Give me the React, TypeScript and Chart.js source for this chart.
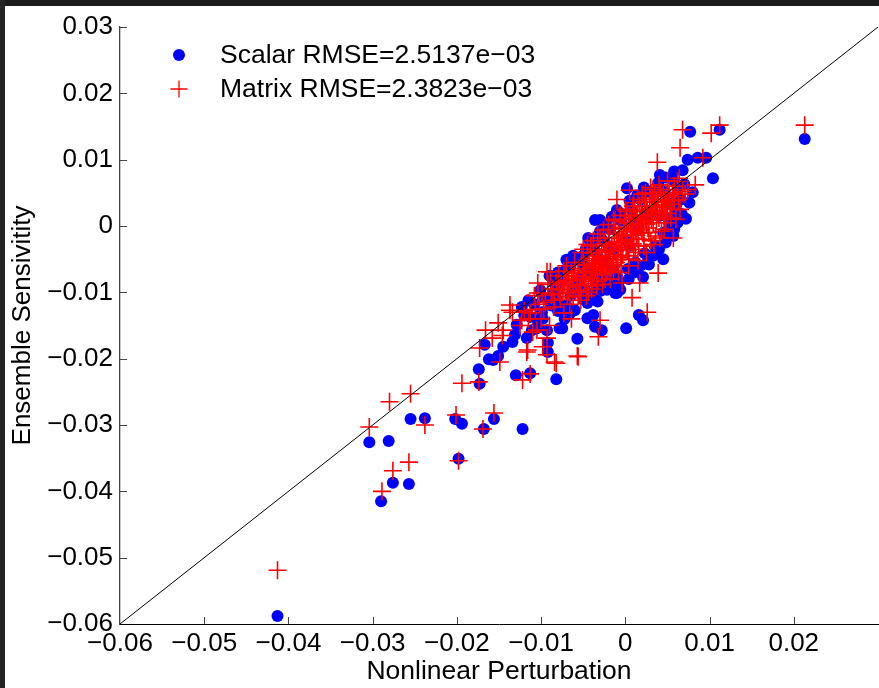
import React, { useEffect, useRef } from "react";
import { Chart, registerables } from "chart.js";

Chart.register(...registerables);

const FONT = "'Liberation Sans', Arial, Helvetica, sans-serif";

const xLabel = "Nonlinear Perturbation";
const yLabel = "Ensemble Sensivitity";
const seriesNames = ["Scalar RMSE=2.5137e\u221203", "Matrix RMSE=2.3823e\u221203"];
const axisMin = -0.06;
const axisMax = 0.03;
const axisStep = 0.01;
const xTickMarks = [-0.05, -0.04, -0.03, -0.02, -0.01, 0, 0.01, 0.02];
const yTickMarks = [-0.05, -0.04, -0.03, -0.02, -0.01, 0, 0.01, 0.02, 0.03];
const identityLine = [[-0.06, -0.06], [0.03, 0.03]];

// Scalar (blue dots)
const scalarPoints: number[][] = [
  [-0.0413, -0.0588], [-0.0290, -0.0415], [-0.0304, -0.0326], [-0.0281, -0.0324],
  [-0.0276, -0.0387], [-0.0257, -0.0389], [-0.0255, -0.0291], [-0.0238, -0.0290],
  [-0.0202, -0.0291], [-0.0194, -0.0298], [-0.0198, -0.0351], [-0.0168, -0.0306],
  [-0.0156, -0.0291], [-0.0122, -0.0306], [-0.0173, -0.0238], [-0.0174, -0.0216],
  [-0.0130, -0.0225], [-0.0113, -0.0222], [-0.0082, -0.0231], [-0.0167, -0.0179],
  [-0.0162, -0.0201], [-0.0157, -0.0202], [-0.0151, -0.0196], [-0.0145, -0.0182],
  [-0.0134, -0.0175], [-0.0131, -0.0164], [-0.0117, -0.0169], [-0.0111, -0.0157],
  [-0.0129, -0.0149], [-0.0123, -0.0122], [-0.0104, -0.0142], [-0.0093, -0.0157],
  [-0.0092, -0.0176], [-0.0092, -0.0190], [-0.0075, -0.0154], [-0.0099, -0.0130],
  [-0.0101, -0.0097], [-0.0081, -0.0112], [-0.0074, -0.0081], [-0.0070, -0.0051],
  [-0.0063, -0.0048], [-0.0075, -0.0071], [-0.0113, -0.0137], [-0.0105, -0.0154],
  [-0.0078, -0.0154], [-0.0060, -0.0127], [-0.0045, -0.0139], [-0.0038, -0.0134],
  [-0.0036, -0.0152], [-0.0028, -0.0157], [-0.0057, -0.0170], [0.0001, -0.0154],
  [0.0016, -0.0134], [0.0021, -0.0142], [-0.0045, -0.0116], [-0.0022, -0.0096],
  [-0.0010, -0.0101], [-0.0089, -0.0112], [-0.0081, -0.0092], [0.0021, -0.0077],
  [0.0023, -0.0041], [0.0014, -0.0062], [-0.0030, -0.0077], [-0.0054, -0.0081],
  [0.0077, 0.0142], [0.0112, 0.0145], [0.0074, 0.0100], [0.0086, 0.0103],
  [0.0096, 0.0103], [0.0068, 0.0084], [0.0104, 0.0072], [0.0041, 0.0077],
  [0.0057, 0.0069], [0.0039, 0.0065], [0.0002, 0.0057], [0.0080, 0.0051],
  [0.0072, 0.0011], [0.0051, 0.0012], [0.0057, -0.0015], [0.0213, 0.0131],
  [-0.0066, -0.0051], [-0.0042, -0.0021], [-0.0030, 0.0009], [-0.0010, 0.0024],
  [-0.0006, -0.0096], [-0.0036, 0.0009], [-0.0044, -0.0018], [0.0053, 0.0012],
  [-0.0012, -0.0101], [-0.0033, -0.0114], [0.0066, 0.0040], [0.0060, 0.0030],
  [0.0047, 0.0050], [0.0030, 0.0050], [-0.0090, -0.0075], [-0.0085, -0.0100],
  [-0.0070, -0.0120], [-0.0065, -0.0105], [-0.0055, -0.0100], [-0.0048, -0.0095],
  [-0.0065, -0.0060], [-0.0058, -0.0095], [-0.0050, -0.0045], [-0.0040, -0.0030],
  [-0.0034, -0.0090], [-0.0028, -0.0020], [-0.0022, -0.0082], [-0.0018, -0.0005],
  [-0.0010, -0.0075], [-0.0005, 0.0008], [0.0003, -0.0065], [0.0008, 0.0025],
  [0.0012, -0.0055], [0.0018, 0.0040], [0.0027, -0.0048], [0.0028, 0.0052],
  [0.0035, -0.0030], [0.0040, 0.0060], [0.0045, -0.0010], [0.0050, 0.0035],
  [0.0060, 0.0020], [0.0062, 0.0055], [-0.0080, -0.0070], [-0.0085, -0.0085],
  [-0.0030, -0.0050], [-0.0015, -0.0035], [0.0000, -0.0020], [0.0015, -0.0005],
  [0.0030, 0.0015], [-0.0045, -0.0065], [0.0070, 0.0063], [0.0058, 0.0082],
  [0.0048, 0.0073], [-0.0050, -0.0060], [-0.0035, -0.0040], [-0.0020, -0.0030],
  [0.0012, 0.0008], [0.0025, 0.0020], [-0.0025, -0.0055], [0.0005, -0.0030],
  [-0.0040, -0.0075], [-0.0060, -0.0090], [-0.0015, -0.0065], [0.0040, 0.0015],
  [-0.0055, -0.0050], [-0.0047, -0.0035], [-0.0040, -0.0020], [-0.0030, -0.0008],
  [-0.0023, 0.0002], [-0.0016, 0.0014], [-0.0007, 0.0020], [0.0005, 0.0038],
  [0.0014, 0.0046], [0.0022, 0.0058], [-0.0062, -0.0045], [-0.0070, -0.0065],
  [-0.0078, -0.0082], [-0.0050, -0.0110], [-0.0040, -0.0105], [-0.0030, -0.0098],
  [-0.0020, -0.0090], [-0.0008, -0.0085], [0.0004, -0.0080], [0.0010, -0.0070],
  [0.0018, -0.0060], [0.0028, -0.0058], [0.0033, -0.0045], [0.0040, -0.0035],
  [0.0048, -0.0025], [0.0052, -0.0005], [0.0062, 0.0005], [0.0067, 0.0018],
  [0.0076, 0.0035], [0.0058, -0.0005], [0.0045, -0.0050],
  [-0.0096, -0.0108], [-0.0088, -0.0120], [-0.0080, -0.0128], [-0.0072, -0.0140],
  [-0.0066, -0.0132], [-0.0098, -0.0140], [-0.0108, -0.0118], [-0.0115, -0.0112],
  [-0.0120, -0.0135],
];

// Matrix (red crosses)
const matrixPoints: number[][] = [
  [-0.0413, -0.0519], [-0.0289, -0.0400], [-0.0304, -0.0303], [-0.0280, -0.0265],
  [-0.0255, -0.0253], [-0.0276, -0.0369], [-0.0257, -0.0356], [-0.0238, -0.0300],
  [-0.0201, -0.0285], [-0.0198, -0.0354], [-0.0169, -0.0306], [-0.0156, -0.0282],
  [-0.0194, -0.0237], [-0.0174, -0.0235], [-0.0122, -0.0232], [-0.0113, -0.0223],
  [-0.0057, -0.0196], [-0.0149, -0.0205], [-0.0116, -0.0187], [-0.0093, -0.0194],
  [-0.0082, -0.0207], [-0.0166, -0.0157], [-0.0173, -0.0184], [-0.0158, -0.0169],
  [-0.0145, -0.0157], [-0.0146, -0.0165], [-0.0134, -0.0130], [-0.0137, -0.0119],
  [-0.0123, -0.0142], [-0.0113, -0.0131], [-0.0107, -0.0126], [-0.0105, -0.0157],
  [-0.0093, -0.0069], [-0.0104, -0.0086], [-0.0093, -0.0169], [-0.0099, -0.0101],
  [-0.0084, -0.0112], [0.0039, -0.0071], [0.0026, -0.0130], [-0.0030, -0.0142],
  [-0.0032, -0.0167], [-0.0056, -0.0197], [-0.0084, -0.0205], [-0.0117, -0.0190],
  [-0.0098, -0.0182], [0.0008, -0.0108], [-0.0004, -0.0086], [0.0017, -0.0086],
  [-0.0089, -0.0069], [-0.0104, -0.0101], [-0.0137, -0.0127], [-0.0151, -0.0146],
  [0.0068, 0.0145], [0.0112, 0.0152], [0.0102, 0.0140], [0.0065, 0.0118],
  [0.0038, 0.0096], [0.0092, 0.0103], [0.0083, 0.0062], [0.0074, 0.0055],
  [0.0062, 0.0067], [0.0071, 0.0048], [0.0057, 0.0044], [0.0041, -0.0018],
  [0.0057, -0.0018], [0.0213, 0.0152], [0.0005, 0.0054], [-0.0010, 0.0040],
  [0.0048, 0.0028],
  [-0.0062, -0.0090], [-0.0060, -0.0071], [-0.0058, -0.0083], [-0.0055, -0.0064],
  [-0.0053, -0.0097], [-0.0051, -0.0076], [-0.0049, -0.0058], [-0.0047, -0.0087],
  [-0.0046, -0.0069], [-0.0043, -0.0049], [-0.0041, -0.0078], [-0.0040, -0.0062],
  [-0.0038, -0.0041], [-0.0037, -0.0071], [-0.0035, -0.0055], [-0.0033, -0.0083],
  [-0.0031, -0.0036], [-0.0030, -0.0062], [-0.0029, -0.0047], [-0.0027, -0.0073],
  [-0.0025, -0.0027], [-0.0024, -0.0053], [-0.0022, -0.0039], [-0.0021, -0.0065],
  [-0.0019, -0.0018], [-0.0018, -0.0046], [-0.0016, -0.0031], [-0.0015, -0.0058],
  [-0.0013, -0.0009], [-0.0012, -0.0038], [-0.0010, -0.0024], [-0.0009, -0.0051],
  [-0.0007, -0.0002], [-0.0006, -0.0029], [-0.0004, -0.0015], [-0.0003, -0.0044],
  [-0.0001, 0.0006], [0.0000, -0.0022], [0.0002, -0.0008], [0.0003, -0.0036],
  [0.0005, 0.0015], [0.0006, -0.0013], [0.0008, 0.0001], [0.0009, -0.0027],
  [0.0011, 0.0022], [0.0012, -0.0005], [0.0014, 0.0009], [0.0015, -0.0020],
  [0.0017, 0.0030], [0.0018, 0.0003], [0.0020, 0.0017], [0.0021, -0.0011],
  [0.0023, 0.0037], [0.0024, 0.0010], [0.0026, 0.0024], [0.0027, -0.0003],
  [0.0029, 0.0043], [0.0030, 0.0016], [0.0032, 0.0031], [0.0033, 0.0005],
  [0.0035, 0.0048], [0.0036, 0.0022], [0.0038, 0.0037], [0.0040, 0.0012],
  [0.0042, 0.0051], [0.0044, 0.0028], [0.0047, 0.0040], [0.0050, 0.0019],
  [0.0052, 0.0055], [0.0055, 0.0033],
  [-0.0068, -0.0100], [-0.0072, -0.0085], [-0.0077, -0.0110], [-0.0080, -0.0095],
  [-0.0085, -0.0122], [-0.0088, -0.0104], [-0.0095, -0.0115], [-0.0066, -0.0118],
  [-0.0073, -0.0131], [-0.0062, -0.0107], [-0.0079, -0.0075], [-0.0070, -0.0060],
  [-0.0064, -0.0140], [-0.0053, -0.0112], [-0.0046, -0.0105], [-0.0040, -0.0095],
  [-0.0027, -0.0088], [-0.0018, -0.0080], [-0.0008, -0.0070], [0.0004, -0.0060],
  [0.0015, -0.0052], [0.0025, -0.0040], [0.0034, -0.0028], [0.0046, -0.0005],
  [0.0060, 0.0010], [0.0065, 0.0025], [-0.0052, -0.0040], [-0.0041, -0.0030],
  [-0.0030, -0.0018], [-0.0020, -0.0005], [-0.0012, 0.0008], [0.0000, 0.0025],
  [0.0010, 0.0035], [0.0020, 0.0048], [0.0030, 0.0058], [-0.0110, -0.0160],
  [-0.0125, -0.0150], [-0.0100, -0.0140], [-0.0090, -0.0150],
  [-0.0057, -0.0076], [-0.0054, -0.0088], [-0.0050, -0.0067], [-0.0048, -0.0080],
  [-0.0045, -0.0059], [-0.0044, -0.0090], [-0.0042, -0.0068], [-0.0039, -0.0052],
  [-0.0039, -0.0084], [-0.0036, -0.0064], [-0.0034, -0.0045], [-0.0033, -0.0073],
  [-0.0032, -0.0056], [-0.0028, -0.0066], [-0.0028, -0.0040], [-0.0026, -0.0058],
  [-0.0023, -0.0030], [-0.0023, -0.0070], [-0.0020, -0.0049], [-0.0019, -0.0036],
  [-0.0017, -0.0062], [-0.0014, -0.0043], [-0.0013, -0.0025], [-0.0011, -0.0055],
  [-0.0008, -0.0035], [-0.0008, -0.0012], [-0.0005, -0.0047], [-0.0004, -0.0024],
  [-0.0002, -0.0004], [0.0001, -0.0032], [0.0001, -0.0014], [0.0004, 0.0004],
  [0.0004, -0.0045], [0.0007, -0.0020], [0.0007, 0.0010], [0.0010, -0.0035],
  [0.0010, -0.0009], [0.0013, 0.0016], [0.0013, -0.0014], [0.0016, -0.0030],
  [0.0016, 0.0002], [0.0019, 0.0024], [0.0019, -0.0006], [0.0022, 0.0008],
  [0.0022, -0.0020], [0.0025, 0.0030], [0.0025, 0.0003], [0.0028, 0.0017],
  [0.0028, -0.0010], [0.0031, 0.0036], [0.0031, 0.0009], [0.0034, 0.0022],
  [0.0034, 0.0040], [0.0037, 0.0010], [0.0037, 0.0029], [0.0039, 0.0045],
  [0.0041, 0.0020], [0.0043, 0.0036], [0.0045, 0.0047], [0.0046, 0.0015],
  [0.0049, 0.0031], [0.0051, 0.0045], [0.0053, 0.0025], [0.0056, 0.0050],
  [0.0058, 0.0038], [-0.0062, -0.0080], [-0.0066, -0.0092], [-0.0059, -0.0100],
  [-0.0064, -0.0070], [-0.0070, -0.0075], [-0.0074, -0.0096], [-0.0069, -0.0106],
  [-0.0076, -0.0088],
  [-0.0050, -0.0035], [-0.0045, -0.0028], [-0.0038, -0.0022], [-0.0033, -0.0012],
  [-0.0026, -0.0006], [-0.0020, 0.0002], [-0.0014, 0.0010], [-0.0006, 0.0016],
  [0.0002, 0.0022], [0.0009, 0.0030], [0.0015, 0.0040], [0.0024, 0.0050],
  [0.0033, 0.0055], [0.0040, 0.0062], [0.0050, 0.0068], [0.0058, 0.0060],
  [0.0064, 0.0072], [0.0068, 0.0052], [0.0063, 0.0040], [0.0054, 0.0012],
  [0.0048, 0.0005], [0.0043, -0.0008], [0.0036, -0.0015], [0.0030, -0.0022],
  [0.0022, -0.0030], [0.0012, -0.0040], [0.0004, -0.0050], [-0.0005, -0.0060],
  [-0.0014, -0.0068], [-0.0024, -0.0080], [-0.0034, -0.0090], [-0.0044, -0.0100],
  [-0.0056, -0.0105], [-0.0060, -0.0055], [-0.0067, -0.0082], [-0.0073, -0.0068],
  [-0.0078, -0.0102], [-0.0082, -0.0085], [-0.0086, -0.0095], [-0.0092, -0.0088],
  [-0.0097, -0.0125], [-0.0102, -0.0118], [-0.0108, -0.0105], [-0.0115, -0.0140],
  [-0.0120, -0.0128],
];

const toXY = (pts: number[][]) => pts.map(([x, y]) => ({ x, y }));

const fmt = (value: number) => {
  const v = Math.round(value * 100) / 100;
  if (Math.abs(v) < 1e-9) return "0";
  return (v < 0 ? "\u2212" : "") + Math.abs(v).toFixed(2);
};

const decorPlugin = {
  id: "decor",
  afterDraw(chart: any) {
    const { ctx } = chart;
    const xs = chart.scales.x;
    const ys = chart.scales.y;
    const area = chart.chartArea;
    ctx.save();
    // inward tick marks
    ctx.strokeStyle = "#444";
    ctx.lineWidth = 1;
    ctx.beginPath();
    xTickMarks.forEach((v) => {
      const px = Math.round(xs.getPixelForValue(v)) + 0.5;
      ctx.moveTo(px, area.bottom);
      ctx.lineTo(px, area.bottom - 7);
    });
    yTickMarks.forEach((v) => {
      const py = Math.round(ys.getPixelForValue(v)) + 0.5;
      ctx.moveTo(area.left, py);
      ctx.lineTo(area.left + 7, py);
    });
    ctx.stroke();

    // legend
    const lx = area.left + 59;
    const rows = [area.top + 28, area.top + 62];
    ctx.fillStyle = "#0000ff";
    ctx.beginPath();
    ctx.arc(lx, rows[0], 6, 0, Math.PI * 2);
    ctx.fill();
    ctx.strokeStyle = "#ff0000";
    ctx.lineWidth = 1.3;
    ctx.beginPath();
    ctx.moveTo(lx - 8.5, rows[1]);
    ctx.lineTo(lx + 8.5, rows[1]);
    ctx.moveTo(lx, rows[1] - 8.5);
    ctx.lineTo(lx, rows[1] + 8.5);
    ctx.stroke();
    ctx.fillStyle = "#000";
    ctx.font = `26.5px ${FONT}`;
    ctx.textAlign = "left";
    ctx.textBaseline = "middle";
    ctx.fillText(seriesNames[0], area.left + 100, rows[0] + 1);
    ctx.fillText(seriesNames[1], area.left + 100, rows[1] + 1);

    // dark screenshot frame
    ctx.fillStyle = "#1b1b1b";
    ctx.fillRect(0, 0, chart.width, 6);
    ctx.fillStyle = "#242424";
    ctx.fillRect(0, 0, 5, chart.height);
    ctx.restore();
  },
};

export default function App() {
  const ref = useRef<HTMLCanvasElement | null>(null);
  useEffect(() => {
    if (!ref.current) return;
    Chart.defaults.font.family = FONT;
    const chart = new Chart(ref.current, {
      type: "scatter",
      data: {
        datasets: [
          {
            type: "line",
            label: "identity",
            data: toXY(identityLine),
            borderColor: "#000",
            borderWidth: 1,
            pointRadius: 0,
            fill: false,
            order: 0,
          } as any,
          {
            label: seriesNames[1],
            data: toXY(matrixPoints),
            pointStyle: "cross",
            pointRadius: 9,
            borderColor: "#ff0000",
            backgroundColor: "#ff0000",
            borderWidth: 1.6,
            order: 1,
          },
          {
            label: seriesNames[0],
            data: toXY(scalarPoints),
            pointStyle: "circle",
            pointRadius: 6,
            backgroundColor: "#0000ff",
            borderWidth: 0,
            order: 2,
          },
        ],
      },
      options: {
        responsive: false,
        animation: false,
        devicePixelRatio: 1,
        layout: { autoPadding: false, padding: { top: 27, right: 1, left: 0, bottom: 0 } },
        plugins: { legend: { display: false }, tooltip: { enabled: false } },
        scales: {
          x: {
            type: "linear",
            min: axisMin,
            max: axisMax,
            afterFit: (s: any) => { s.height = 64; s.paddingRight = 0; },
            ticks: {
              stepSize: axisStep,
              autoSkip: false,
              maxRotation: 0,
              padding: 4,
              color: "#000",
              font: { size: 26, family: FONT, lineHeight: 1.2 },
              callback: (v: any) => (Math.abs(Number(v) - axisMax) < 1e-6 ? "" : fmt(Number(v))),
            },
            grid: { drawOnChartArea: false, drawTicks: false },
            border: { color: "#000", width: 1 },
            title: {
              display: true,
              text: xLabel,
              color: "#000",
              font: { size: 26.5, family: FONT, lineHeight: 1.2 },
              padding: { top: 0, bottom: 0 },
            },
          },
          y: {
            type: "linear",
            min: axisMin,
            max: axisMax,
            afterFit: (s: any) => { s.width = 120; },
            ticks: {
              stepSize: axisStep,
              autoSkip: false,
              padding: 7,
              color: "#000",
              font: { size: 26, family: FONT, lineHeight: 1.2 },
              callback: (v: any) => fmt(Number(v)),
            },
            grid: { drawOnChartArea: false, drawTicks: false },
            border: { color: "#444", width: 1.3 },
            title: {
              display: true,
              text: yLabel,
              color: "#000",
              font: { size: 26, family: FONT, lineHeight: 1.2 },
              padding: { top: 7, bottom: 0 },
            },
          },
        },
      },
      plugins: [decorPlugin],
    });
    return () => chart.destroy();
  }, []);
  return (
    <div style={{ position: "fixed", left: 0, top: 0, width: 879, height: 688, background: "#fff" }}>
      <canvas ref={ref} width={879} height={688} style={{ display: "block" }} />
    </div>
  );
}
